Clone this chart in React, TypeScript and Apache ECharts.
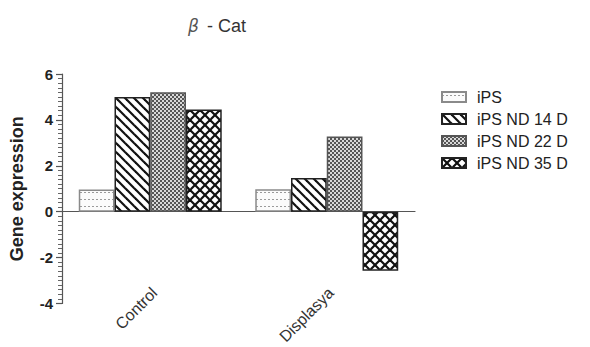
import React, { useEffect, useRef } from "react";
import * as echarts from "echarts";

const categories = ["Control", "Displasya"];
const seriesNames = ["iPS", "iPS ND 14 D", "iPS ND 22 D", "iPS ND 35 D"];
const valsIPS = [0.97, 0.98];
const valsND14 = [5.0, 1.47];
const valsND22 = [5.2, 3.28];
const valsND35 = [4.45, -2.58];
const yTicks = [-4, -2, 0, 2, 4, 6];

function makeCanvas(w: number, h: number, draw: (c: CanvasRenderingContext2D) => void) {
  const cv = document.createElement("canvas");
  cv.width = w;
  cv.height = h;
  const ctx = cv.getContext("2d")!;
  draw(ctx);
  return cv;
}

function patterns() {
  const dots = makeCanvas(4, 7, (c) => {
    c.fillStyle = "#fbfbfb";
    c.fillRect(0, 0, 4, 7);
    c.fillStyle = "#9a9a9a";
    c.fillRect(0, 3, 2, 1);
  });
  const diag = makeCanvas(9, 9, (c) => {
    c.fillStyle = "#ffffff";
    c.fillRect(0, 0, 9, 9);
    c.strokeStyle = "#111";
    c.lineWidth = 2.2;
    for (const off of [-9, 0, 9]) {
      c.beginPath();
      c.moveTo(off - 1, -1);
      c.lineTo(off + 10, 10);
      c.stroke();
    }
  });
  const checker = makeCanvas(4, 4, (c) => {
    c.fillStyle = "#d8d8d8";
    c.fillRect(0, 0, 4, 4);
    c.fillStyle = "#555";
    c.fillRect(0, 0, 2, 2);
    c.fillRect(2, 2, 2, 2);
  });
  const cross = makeCanvas(10, 10, (c) => {
    c.fillStyle = "#ffffff";
    c.fillRect(0, 0, 10, 10);
    c.strokeStyle = "#111";
    c.lineWidth = 2.2;
    for (const off of [-10, 0, 10]) {
      c.beginPath();
      c.moveTo(off - 1, -1);
      c.lineTo(off + 11, 11);
      c.stroke();
      c.beginPath();
      c.moveTo(off + 11, -1);
      c.lineTo(off - 1, 11);
      c.stroke();
    }
  });
  const p = (img: HTMLCanvasElement) => ({
    image: img,
    repeat: "repeat",
    imageWidth: img.width,
    imageHeight: img.height,
  });
  return [p(dots), p(diag), p(checker), p(cross)];
}

export default function App() {
  const ref = useRef<HTMLDivElement>(null);
  useEffect(() => {
    document.body.style.margin = "0";
    if (!ref.current) return;
    const chart = echarts.init(ref.current, undefined, { renderer: "svg" });
    const pats = patterns();
    const data = [valsIPS, valsND14, valsND22, valsND35];
    const borders = ["#8a8a8a", "#222", "#555", "#222"];
    chart.setOption({
      animation: false,
      backgroundColor: "#ffffff",
      textStyle: { fontFamily: "Liberation Sans, Arial, sans-serif" },
      title: {
        text: "{b|β} - Cat",
        left: 212,
        top: 12,
        textAlign: "center",
        textStyle: {
          fontSize: 18,
          fontWeight: "normal",
          color: "#333",
          rich: {
            b: { fontStyle: "italic", fontSize: 17, color: "#555", fontFamily: "DejaVu Sans, sans-serif", padding: [0, 3, 0, 0] },
          },
        },
      },
      legend: {
        orient: "vertical",
        left: 436,
        top: 84,
        itemWidth: 24,
        itemHeight: 10,
        itemGap: 6,
        icon: "rect",
        textStyle: { fontSize: 16, lineHeight: 16, color: "#222", padding: [0, 0, 0, 6] },
        data: seriesNames,
      },
      grid: { left: 62, top: 74, width: 353, bottom: 41 },
      xAxis: [
        {
          type: "category",
          data: categories,
          position: "bottom",
          axisLine: { show: false, onZero: false },
          axisTick: { show: false },
          axisLabel: { rotate: 45, fontSize: 16, color: "#333", margin: -9, padding: [0, -6, 0, 0] },
        },
        {
          type: "category",
          data: categories,
          position: "bottom",
          axisLine: { show: true, onZero: true, lineStyle: { color: "#555", width: 1.2 } },
          axisTick: { show: false },
          axisLabel: { show: false },
        },
      ],
      yAxis: {
        type: "value",
        min: yTicks[0],
        max: yTicks[yTicks.length - 1],
        interval: 2,
        name: "Gene expression",
        nameLocation: "middle",
        nameGap: 36,
        nameTextStyle: { fontSize: 18, fontWeight: "bold", color: "#222" },
        axisLine: { show: true, lineStyle: { color: "#555", width: 1.2 } },
        axisTick: { show: true, length: 6, lineStyle: { color: "#555", width: 1.2 } },
        minorTick: { show: true, splitNumber: 10, length: 4, lineStyle: { color: "#666" } },
        splitLine: { show: false },
        axisLabel: { fontSize: 15, fontWeight: "bold", color: "#222", margin: 9 },
      },
      series: seriesNames.map((name, i) => ({
        name,
        type: "bar",
        xAxisIndex: 0,
        data: data[i],
        barGap: "0%",
        barCategoryGap: "19%",
        itemStyle: { color: pats[i], borderColor: borders[i], borderWidth: 1.5 },
      })),
    });
    return () => chart.dispose();
  }, []);
  return <div ref={ref} style={{ width: 590, height: 347 }} />;
}
